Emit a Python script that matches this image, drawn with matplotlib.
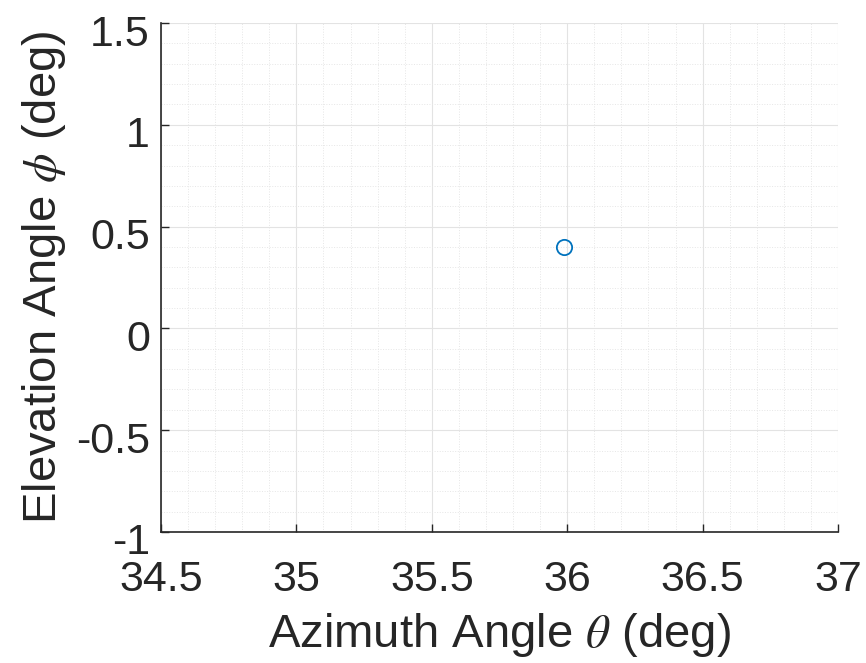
import numpy as np
import matplotlib.pyplot as plt
import matplotlib.transforms as mtransforms
from matplotlib.ticker import MultipleLocator

# target estimate (deg)
azimuth = [35.99]
elevation = [0.4]

x_ticks = [34.5, 35, 35.5, 36, 36.5, 37]
y_ticks = [-1, -0.5, 0, 0.5, 1, 1.5]

plt.rcParams['font.family'] = ['Liberation Sans', 'DejaVu Sans']
plt.rcParams['mathtext.fontset'] = 'stix'

fig = plt.figure(figsize=(8.66, 6.63), dpi=100)
ax = fig.add_axes([161 / 866, 1 - 532 / 663, 677 / 866, 509 / 663])

ax.plot(azimuth, elevation, 'o', mfc='none', mec='#0072BD', ms=11, mew=1.3)

ax.set_xlim(34.5, 37)
ax.set_ylim(-1, 1.5)
ax.set_xticks(x_ticks)
ax.set_yticks(y_ticks)
ax.set_xticklabels([f'{t:g}' for t in x_ticks])
ax.set_yticklabels([f'{t:g}' for t in y_ticks])
ax.xaxis.set_minor_locator(MultipleLocator(0.1))
ax.yaxis.set_minor_locator(MultipleLocator(0.1))

ax.grid(which='major', color='#e3e3e3', lw=0.8)
ax.grid(which='minor', color='#e6e6e6', lw=0.7, ls=':')
ax.set_axisbelow(True)

for s in ['top', 'right']:
    ax.spines[s].set_visible(False)
for s in ['left', 'bottom']:
    ax.spines[s].set_color('#262626')
    ax.spines[s].set_linewidth(1.2)

ax.tick_params(which='major', direction='in', length=6, width=1, colors='#262626',
               labelsize=31)
ax.tick_params(axis='x', which='major', pad=20)
ax.tick_params(axis='y', which='major', pad=8)
ax.tick_params(which='minor', length=0)

# matlab-ish: y tick labels sit a bit below their ticks
shift = mtransforms.ScaledTranslation(0, -7 / 100, fig.dpi_scale_trans)
for lbl in ax.get_yticklabels():
    lbl.set_transform(lbl.get_transform() + shift)

ax.set_xlabel(r'Azimuth Angle $\theta$ (deg)', fontsize=34, color='#262626', labelpad=8)
ax.set_ylabel(r'Elevation Angle $\phi$ (deg)', fontsize=34, color='#262626', labelpad=6)

fig.savefig('out.png', dpi=100, facecolor='white')
